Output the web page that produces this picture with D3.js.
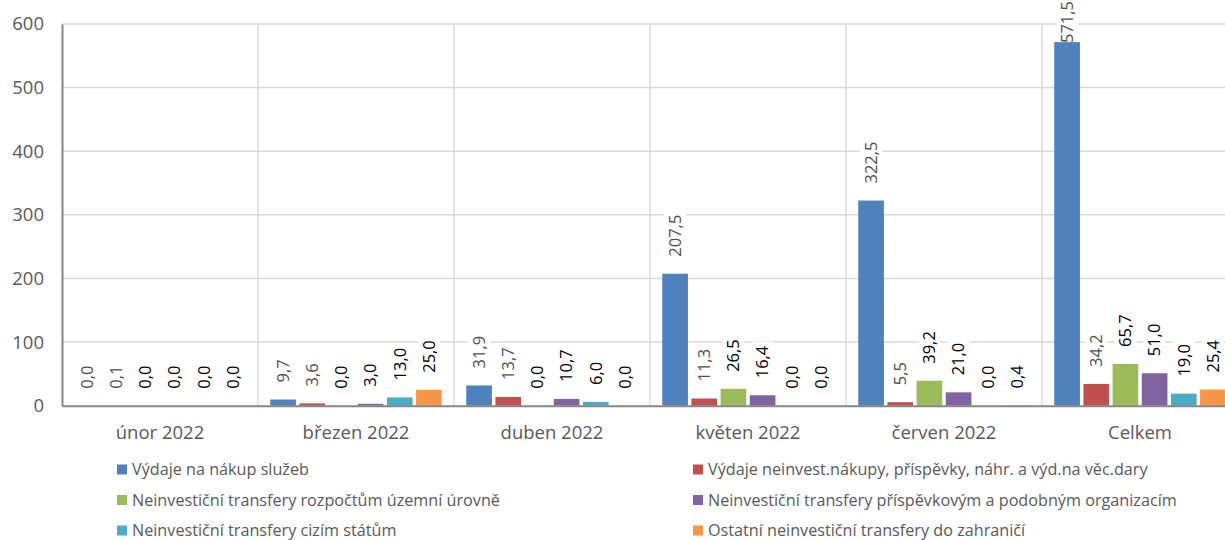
<!DOCTYPE html>
<html>
<head>
<meta charset="utf-8">
<script src="https://cdn.jsdelivr.net/npm/d3@7"></script>
<style>
  html, body { margin: 0; padding: 0; background: #fff; }
  svg { display: block; font-family: "Open Sans", "Noto Sans", sans-serif; }
</style>
</head>
<body>
<svg id="chart" width="1225" height="540"></svg>
<script>
// ---- data ----
const categories = ["únor 2022", "březen 2022", "duben 2022", "květen 2022", "červen 2022", "Celkem"];
const seriesNames = [
  "Výdaje na nákup služeb",
  "Výdaje neinvest.nákupy, příspěvky, náhr. a výd.na věc.dary",
  "Neinvestiční transfery rozpočtům územní úrovně",
  "Neinvestiční transfery příspěvkovým a podobným organizacím",
  "Neinvestiční transfery cizím státům",
  "Ostatní neinvestiční transfery do zahraničí"
];
const nakupSluzeb          = [0.0, 9.7, 31.9, 207.5, 322.5, 571.5];
const neinvestNakupy       = [0.1, 3.6, 13.7, 11.3, 5.5, 34.2];
const transferyUzemni      = [0.0, 0.0, 0.0, 26.5, 39.2, 65.7];
const transferyPrispevkove = [0.0, 3.0, 10.7, 16.4, 21.0, 51.0];
const transferyCizimStatum = [0.0, 13.0, 6.0, 0.0, 0.0, 19.0];
const ostatniZahranici     = [0.0, 25.0, 0.0, 0.0, 0.4, 25.4];
const yTicks = [0, 100, 200, 300, 400, 500, 600];

const seriesValues = [nakupSluzeb, neinvestNakupy, transferyUzemni, transferyPrispevkove, transferyCizimStatum, ostatniZahranici];
const colors = ["#4F81BD", "#C0504D", "#9BBB59", "#8064A2", "#4BACC6", "#F79646"];
const labelColors = ["#505050", "#505050", "#000000", "#000000", "#000000", "#000000"];

// ---- layout ----
const svg = d3.select("#chart");
const left = 62, bandW = 196;
const x0 = d3.scaleBand().domain(categories).range([left, left + bandW * categories.length]).padding(0);
const x1 = d3.scaleBand().domain(d3.range(seriesNames.length)).range([0, x0.bandwidth()])
  .paddingInner(0.12).paddingOuter(0.42);
const y = d3.scaleLinear().domain([0, 600]).range([405.7, 24]);

const fmt = v => d3.format(".1f")(v).replace(".", ",");

// gridlines
svg.append("g").selectAll("line").data(yTicks.filter(t => t > 0)).join("line")
  .attr("x1", left).attr("x2", x0.range()[1])
  .attr("y1", d => y(d)).attr("y2", d => y(d))
  .attr("stroke", "#d9d9d9").attr("stroke-width", 1.5);
svg.append("g").selectAll("line").data(categories.slice(1)).join("line")
  .attr("x1", d => x0(d)).attr("x2", d => x0(d))
  .attr("y1", y(600)).attr("y2", y(0))
  .attr("stroke", "#d9d9d9").attr("stroke-width", 1.5);

// label background layer (under bars, over gridlines)
const labelBg = svg.append("g");

// bars
const groups = svg.append("g").selectAll("g").data(categories).join("g")
  .attr("transform", d => `translate(${x0(d)},0)`);
groups.selectAll("rect").data((c, ci) => seriesValues.map((vals, si) => ({si, v: vals[ci]}))).join("rect")
  .attr("x", d => x1(d.si))
  .attr("width", x1.bandwidth())
  .attr("y", d => y(d.v))
  .attr("height", d => y(0) - y(d.v))
  .attr("fill", d => colors[d.si]);

// axes
const yAxis = svg.append("g").attr("transform", `translate(${left},0)`)
  .call(d3.axisLeft(y).tickValues(yTicks).tickSize(0).tickPadding(18));
yAxis.select(".domain").attr("stroke", "#868686").attr("stroke-width", 2);
yAxis.selectAll("text").attr("font-size", 18.5).attr("fill", "#595959")
  .attr("font-family", "'Open Sans', sans-serif");

const xAxis = svg.append("g").attr("transform", `translate(0,${y(0)})`)
  .call(d3.axisBottom(x0).tickSize(0).tickPadding(20).tickSizeOuter(0));
xAxis.select(".domain").attr("stroke", "#868686").attr("stroke-width", 2);
xAxis.selectAll("text").attr("font-size", 18.5).attr("fill", "#595959")
  .attr("font-family", "'Open Sans', sans-serif");

// data labels
const labelLayer = svg.append("g");
categories.forEach((c, ci) => {
  seriesValues.forEach((vals, si) => {
    const v = vals[ci];
    const cx = x0(c) + x1(si) + x1.bandwidth() / 2;
    const g = labelLayer.append("g");
    const t = g.append("text")
      .attr("font-size", 16.5)
      .attr("fill", labelColors[si])
      .attr("text-anchor", "start")
      .attr("dy", "0.35em")
      .text(fmt(v));
    const len = t.node().getComputedTextLength();
    let start = y(v) - 17;
    if (start - len < 1) start = len + 1;
    const tr = `translate(${cx},${start}) rotate(-90)`;
    g.attr("transform", tr);
    labelBg.append("rect")
      .attr("transform", tr)
      .attr("x", -4).attr("y", -11)
      .attr("width", len + 8).attr("height", 22)
      .attr("fill", "#fff");
  });
});

// legend
const legend = svg.append("g");
const legCols = [117, 693];
const legRows = [469.5, 500, 530.5];
seriesNames.forEach((name, i) => {
  const lx = legCols[i % 2], ly = legRows[Math.floor(i / 2)];
  legend.append("rect").attr("x", lx).attr("y", ly - 5).attr("width", 10).attr("height", 10)
    .attr("fill", colors[i]);
  legend.append("text").attr("x", lx + 15).attr("y", ly).attr("dy", "0.35em")
    .attr("font-size", 16.2).attr("fill", "#595959").text(name);
});
</script>
</body>
</html>
